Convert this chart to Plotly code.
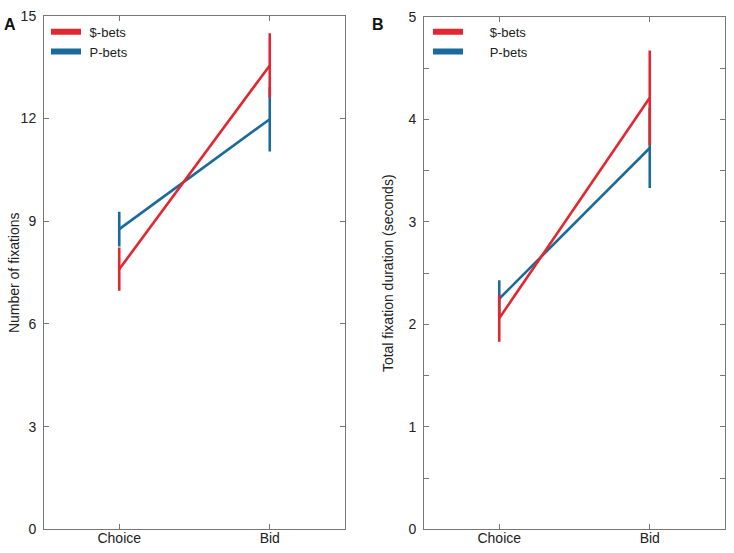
import plotly.graph_objects as go

fases = ["Choice", "Bid"]

# Painel A - numero de fixacoes
fix_dolar = [7.60, 13.55]
fix_dolar_ep = [0.63, 0.94]
fix_p = [8.77, 11.98]
fix_p_ep = [0.51, 0.94]

# Painel B - duracao total (segundos)
dur_dolar = [2.06, 4.21]
dur_dolar_ep = [0.23, 0.46]
dur_p = [2.25, 3.72]
dur_p_ep = [0.18, 0.39]

VERMELHO = "#e3262f"
AZUL = "#1b6a9c"
FONTE = "Liberation Sans, Arial, sans-serif"

W, H = 734, 553

def px_x(v):
    return v / W

def px_y(v):
    return 1 - v / H

fig = go.Figure()

def serie(y, ep, cor, xa, ya):
    fig.add_trace(go.Scatter(
        x=fases, y=y, mode="lines", xaxis=xa, yaxis=ya, showlegend=False,
        line=dict(color=cor, width=2.6),
        error_y=dict(type="data", array=ep, visible=True, color=cor, thickness=2.6, width=0),
        hoverinfo="skip",
    ))

# azul primeiro, vermelho por cima
serie(fix_p, fix_p_ep, AZUL, "x", "y")
serie(fix_dolar, fix_dolar_ep, VERMELHO, "x", "y")
serie(dur_p, dur_p_ep, AZUL, "x2", "y2")
serie(dur_dolar, dur_dolar_ep, VERMELHO, "x2", "y2")

# entradas de legenda (no painel B o texto fica mais afastado)
for nome, cor in [("$-bets", VERMELHO), ("P-bets", AZUL)]:
    fig.add_trace(go.Scatter(x=[None], y=[None], mode="lines", name="\u00a0" + nome,
                             xaxis="x", yaxis="y", line=dict(color=cor, width=6), legend="legend"))
    fig.add_trace(go.Scatter(x=[None], y=[None], mode="lines", name="\u00a0" * 6 + nome,
                             xaxis="x2", yaxis="y2", line=dict(color=cor, width=6), legend="legend2"))

eixo_x = dict(
    type="category", range=[-0.5, 1.5], showline=True, linecolor="#777", linewidth=1,
    mirror="ticks", ticks="inside", ticklen=5, tickcolor="#777", showgrid=False,
    zeroline=False, tickfont=dict(size=14, color="#222", family=FONTE), fixedrange=True,
    ticklabelstandoff=-4,
)
eixo_y = dict(
    showline=True, linecolor="#777", linewidth=1, mirror="ticks", ticks="inside",
    ticklen=5, tickcolor="#777", showgrid=False, zeroline=False,
    tickfont=dict(size=14, color="#222", family=FONTE), ticklabelstandoff=4,
)

leg = dict(xanchor="left", yanchor="top", bgcolor="rgba(0,0,0,0)",
           font=dict(size=13), itemwidth=30, tracegroupgap=0)

fig.update_layout(
    width=W, height=H,
    margin=dict(l=0, r=0, t=0, b=0),
    paper_bgcolor="white", plot_bgcolor="white",
    font=dict(family=FONTE, size=14, color="#222"),
    xaxis=dict(eixo_x, domain=[px_x(44), px_x(345)], anchor="y"),
    yaxis=dict(eixo_y, domain=[px_y(537), px_y(8)], range=[0, 15], tick0=0, dtick=3, anchor="x"),
    xaxis2=dict(eixo_x, domain=[px_x(424), px_x(725)], anchor="y2"),
    yaxis2=dict(eixo_y, domain=[px_y(537), px_y(9)], range=[0, 5], tick0=0, dtick=1, anchor="x2",
                minor=dict(dtick=0.5, ticks="inside", ticklen=5, tickcolor="#777")),
    legend=dict(leg, x=px_x(46), y=px_y(9)),
    legend2=dict(leg, x=px_x(428), y=px_y(9)),
    annotations=[
        dict(text="<b>A</b>", x=px_x(10), y=px_y(17), xref="paper", yref="paper",
             xanchor="center", yanchor="middle", showarrow=False, font=dict(size=16, color="#111")),
        dict(text="<b>B</b>", x=px_x(378), y=px_y(17), xref="paper", yref="paper",
             xanchor="center", yanchor="middle", showarrow=False, font=dict(size=16, color="#111")),
        dict(text="Number of fixations", x=px_x(14), y=px_y(273), xref="paper", yref="paper",
             xanchor="center", yanchor="middle", textangle=-90, showarrow=False,
             font=dict(size=14, color="#222")),
        dict(text="Total fixation duration (seconds)", x=px_x(388), y=px_y(273), xref="paper",
             yref="paper", xanchor="center", yanchor="middle", textangle=-90, showarrow=False,
             font=dict(size=14, color="#222")),
    ],
)

# tira a margem da pagina
ajuste = (
    "document.body.style.margin='0';"
    "var d=document.getElementById('{plot_id}');"
    "d.style.position='fixed';d.style.top='0';d.style.left='0';"
)

fig.write_html("out.html", config={"displayModeBar": False}, post_script=ajuste)
